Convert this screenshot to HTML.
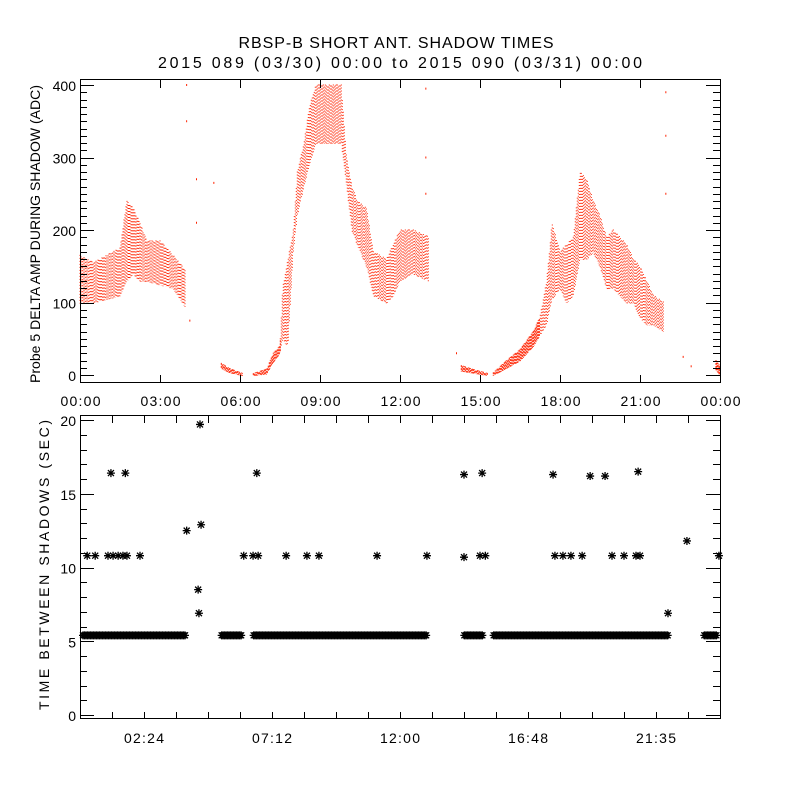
<!DOCTYPE html>
<html><head><meta charset="utf-8"><style>
html,body{margin:0;padding:0;background:#fff;}
svg{display:block;font-family:"Liberation Sans",sans-serif;}
</style></head><body>
<svg id="chart" width="800" height="800" viewBox="0 0 800 800">
<text x="396" y="48" text-anchor="middle" font-size="16" textLength="315" lengthAdjust="spacing">RBSP-B SHORT ANT. SHADOW TIMES</text>
<text x="400" y="68" text-anchor="middle" font-size="16" textLength="484" lengthAdjust="spacing">2015 089 (03/30) 00:00 to 2015 090 (03/31) 00:00</text>
<g id="top"></g>
<g id="bot"></g>
<text transform="translate(40,234) rotate(-90)" text-anchor="middle" font-size="14" textLength="298" lengthAdjust="spacing">Probe 5 DELTA AMP DURING SHADOW (ADC)</text>
<text transform="translate(49,565) rotate(-90)" text-anchor="middle" font-size="14" textLength="290" lengthAdjust="spacing">TIME BETWEEN SHADOWS (SEC)</text>
</svg>
<script>
// ---- top panel data: envelope of amplitude cloud (hours, ADC low, ADC high) ----
const ampSegments = [
 {t:[0,0.5,1,1.5,1.75,2,2.25,2.5,3,3.5,3.94], lo:[100,100,105,110,130,140,130,130,125,120,95], hi:[165,155,165,175,240,230,210,185,185,165,145]},
 {t:[5.3,5.6,6.1], lo:[10,4,0], hi:[16,9,2]},
 {t:[6.5,7.0,7.25,7.5,7.6,7.8,8.0,8.15,8.4,8.6,8.85,9.0,9.8,10.0,10.2,10.4,10.75,11.0,11.5,11.75,12.0,12.5,13.1],
  lo:[0,2,18,30,50,40,170,220,260,290,320,320,320,260,200,180,150,110,100,110,130,140,130],
  hi:[2,8,30,40,120,160,200,280,320,370,400,400,400,300,260,240,230,170,160,180,200,200,190]},
 {t:[14.3,14.8,15.3], lo:[6,3,0], hi:[13,7,2]},
 {t:[15.5,16,16.5,17,17.25,17.5,17.7,18,18.25,18.5,18.75,19,19.25,19.5,19.75,20,20.25,20.5,20.75,21,21.25,21.5,21.9],
  lo:[0,10,20,40,55,70,105,120,100,110,160,160,170,150,120,120,110,100,100,80,70,70,60],
  hi:[3,20,35,60,80,130,210,170,180,190,280,270,240,220,190,200,190,180,160,150,130,110,100]},
 {t:[23.85,24], lo:[8,0], hi:[20,12]}
];
const strayTimes = [3.98,3.98,4.35,4.35,4.1,5.0,12.95,12.95,12.95,14.1,21.95,21.95,21.95,22.6,22.9];
const strayValues = [400,350,270,210,75,265,395,300,250,30,390,330,250,25,12];
// ---- bottom panel data ----
const bandStart = [0,5.2,6.4,14.3,15.4,23.3];
const bandEnd   = [4.09,6.2,13.1,15.2,22.2,24];
const bandValue = [5.4,5.4,5.4,5.4,5.4,5.4];
const outTimes  = [0.27,0.57,1.16,1.7,1.05,1.24,1.43,1.61,1.76,2.25,4.0,4.5,4.54,4.43,4.46,6.14,6.63,6.49,6.68,7.73,8.51,8.96,11.14,13.01,14.4,14.4,15.08,15.0,15.2,17.74,17.81,18.11,18.41,18.83,19.13,19.69,19.95,20.4,20.93,20.85,21.0,22.05,22.76,23.96];
const outValues = [10.8,10.8,16.4,16.4,10.8,10.8,10.8,10.8,10.8,10.8,12.5,19.7,12.9,8.5,6.9,10.8,16.4,10.8,10.8,10.8,10.8,10.8,10.8,10.8,16.3,10.7,16.4,10.8,10.8,16.3,10.8,10.8,10.8,10.8,16.2,16.2,10.8,10.8,16.5,10.8,10.8,6.9,11.8,10.8];
const topTicks = ["00:00","03:00","06:00","09:00","12:00","15:00","18:00","21:00","00:00"];
const topYTicks = [0,100,200,300,400];
const botTicks = ["02:24","07:12","12:00","16:48","21:35"];
const botYTicks = [0,5,10,15,20];

const NS="http://www.w3.org/2000/svg";
function mk(parent,tag,attrs){const e=document.createElementNS(NS,tag);for(const k in attrs)e.setAttribute(k,attrs[k]);parent.appendChild(e);return e;}
const X0=80,X1=720;
const xs=t=>X0+t*(X1-X0)/24;
const yTop=v=>375-v*0.725;
const yBot=v=>715-v*14.75;
const topG=document.getElementById('top'), botG=document.getElementById('bot');
const OFFS=[0,2,1,1,0,2,2,1,0,1,2,0,0,1,2,2,0,1];

// ---- top panel ----
const cloud=mk(topG,'g',{});


ampSegments.forEach((s,si)=>{
  const g=mk(cloud,'g',{});
  
  
  const xa=xs(s.t[0]), xb=xs(s.t[s.t.length-1]);
  let k=0;
  for(let x=xa;x<=xb;x+=1){
    const t=(x-X0)*24/(X1-X0);
    let j=0;while(j<s.t.length-2&&t>s.t[j+1])j++;
    const f=s.t[j+1]===s.t[j]?0:Math.min(1,Math.max(0,(t-s.t[j])/(s.t[j+1]-s.t[j])));
    const lo=s.lo[j]+(s.lo[j+1]-s.lo[j])*f, hi=s.hi[j]+(s.hi[j+1]-s.hi[j])*f;
    const y1=Math.max(yTop(Math.min(hi,400))-0.5,80), y2=yTop(lo)+1;
    const dense=(hi-lo)<25;
    mk(g,'line',{x1:x.toFixed(1),x2:x.toFixed(1),y1:y1.toFixed(1),y2:y2.toFixed(1),stroke:'#ff2200','stroke-width':1,'stroke-dasharray':dense?'2 1':'1 2','stroke-dashoffset':OFFS[k%OFFS.length]});
    k++;
  }
});
strayTimes.forEach((t,i)=>{
  const r=mk(topG,'rect',{x:xs(t),y:yTop(strayValues[i])-1,width:1,height:2,fill:'#ff2200'});
  
  
});
const ta=mk(topG,'g',{stroke:'#000','stroke-width':1,fill:'none'});


mk(ta,'rect',{x:80.5,y:79.5,width:640,height:303});
for(let v=0;v<=400;v+=10){const y=Math.round(yTop(v))+0.5;const L=v%100===0?14:7;
  mk(ta,'line',{x1:80,x2:80+L,y1:y,y2:y});mk(ta,'line',{x1:720-L,x2:720,y1:y,y2:y});}
topTicks.forEach((lab,i)=>{const x=Math.round(xs(i*3))+0.5;
  mk(ta,'line',{x1:x,x2:x,y1:383,y2:375});mk(ta,'line',{x1:x,x2:x,y1:80,y2:88});
  const tx=mk(topG,'text',{x:x,y:406,'text-anchor':'middle','font-size':14,textLength:40});tx.textContent=lab;
  
  });
topYTicks.forEach(v=>{const tx=mk(topG,'text',{x:76,y:yTop(v)+6,'text-anchor':'end','font-size':14});tx.textContent=v;
  
  });

// ---- bottom panel ----
function star(g,x,y){
  const d=`M${x-4},${y}h8M${x},${y-4}v8M${x-3},${y-3}l6,6M${x-3},${y+3}l6,-6`;
  return mk(g,'path',{d:d,stroke:'#000','stroke-width':1.3,fill:'none'});
}
const band=mk(botG,'g',{});


bandStart.forEach((s,i)=>{
  const g=mk(band,'g',{});
  
  
  for(let x=xs(s)+3;x<=Math.min(xs(bandEnd[i])-3,717);x+=1.5){star(g,x,yBot(bandValue[i]));}
});
outTimes.forEach((t,i)=>{
  const p=star(botG,xs(t),yBot(outValues[i]));
  
  
});
const ba=mk(botG,'g',{stroke:'#000','stroke-width':1,fill:'none'});


mk(ba,'rect',{x:80.5,y:415.5,width:640,height:303});
for(let v=0;v<=20;v++){const y=Math.round(yBot(v))+0.5;const L=v%5===0?14:7;
  mk(ba,'line',{x1:80,x2:80+L,y1:y,y2:y});mk(ba,'line',{x1:720-L,x2:720,y1:y,y2:y});}
for(let i=1;i<20;i++){const x=80+i*32+0.5;
  mk(ba,'line',{x1:x,x2:x,y1:719,y2:712});mk(ba,'line',{x1:x,x2:x,y1:416,y2:423});}
botTicks.forEach((lab,i)=>{const tx=mk(botG,'text',{x:144+i*128,y:743,'text-anchor':'middle','font-size':14,textLength:40});tx.textContent=lab;
  
  });
botYTicks.forEach(v=>{const tx=mk(botG,'text',{x:76,y:yBot(v)+6,'text-anchor':'end','font-size':14});tx.textContent=v;
  
  });
</script>
</body></html>
